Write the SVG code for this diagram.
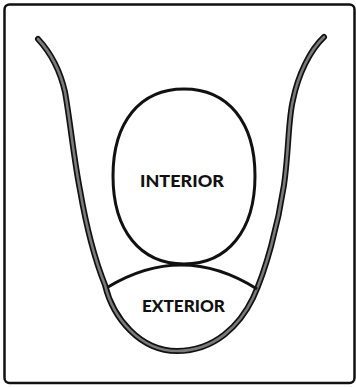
<svg xmlns="http://www.w3.org/2000/svg" width="356" height="387" viewBox="0 0 356 387">
<style>
.frame{fill:#fff;stroke:#111;stroke-width:2.5}
.uo{fill:none;stroke:#111;stroke-width:6;stroke-linecap:round;stroke-linejoin:round}
.ui{fill:none;stroke:#7a7a7a;stroke-width:2.6;stroke-linecap:round;stroke-linejoin:round}
.line{fill:none;stroke:#111;stroke-width:3}
.lbl{font-family:Lato,"Open Sans",sans-serif;font-weight:900;font-size:17.5px;fill:#111;text-anchor:middle}
</style>
<defs>
<path id="u" d="M38,39 C50,52 60,70 65,92 C70,120 74,160 80,190 C86,225 95,260 105,285 C113,318 140,351 177,351 C215,351 240,325 253,298 C266,270 278,225 284,185 C289,150 288,120 293,100 C298,75 310,50 324,37"/>
</defs>
<rect class="frame" x="4.5" y="4.5" width="350" height="378.5" rx="5"/>
<g id="vessel">
<use href="#u" class="uo"/>
<use href="#u" class="ui"/>
</g>
<g id="interior">
<path class="line" d="M184,89 C228,89 255,122 255,176 C255,230 228,264 184,264 C140,264 113,230 113,176 C113,122 140,89 184,89 Z"/>
<text class="lbl" x="182" y="186.5" textLength="84" lengthAdjust="spacingAndGlyphs">INTERIOR</text>
</g>
<g id="exterior">
<path class="line" d="M108,287 Q183,242 257,289"/>
<text class="lbl" x="183.5" y="312" textLength="83" lengthAdjust="spacingAndGlyphs">EXTERIOR</text>
</g>
</svg>
